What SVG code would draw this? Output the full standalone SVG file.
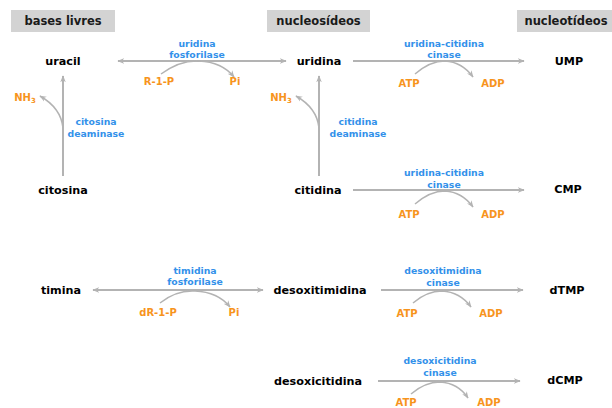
<svg xmlns="http://www.w3.org/2000/svg" width="612" height="408" viewBox="0 0 612 408">
<defs>
<marker id="ah" viewBox="0 0 10 10" refX="9" refY="5" markerWidth="7" markerHeight="7" orient="auto-start-reverse" markerUnits="userSpaceOnUse">
<path d="M0,1 L10,5 L0,9 L3,5 Z" fill="#b3b3b3"/>
</marker>
<style>
.hdr{fill:#d3d3d3}
.ht{font-family:"DejaVu Sans",sans-serif;font-weight:bold;font-size:11.5px;fill:#1a1a1a;text-anchor:middle}
.n{font-family:"DejaVu Sans",sans-serif;font-weight:bold;font-size:11.2px;fill:#000;text-anchor:middle}
.e{font-family:"DejaVu Sans",sans-serif;font-weight:bold;font-size:9.3px;fill:#3391ea;text-anchor:middle}
.s{font-family:"DejaVu Sans",sans-serif;font-weight:bold;font-size:10px;fill:#f7941d;text-anchor:middle}
.l{fill:none;stroke:#b3b3b3;stroke-width:2}
.c{fill:none;stroke:#b3b3b3;stroke-width:1.5}
</style>
</defs>
<g id="headers">
<g id="h-bases"><rect class="hdr" x="11" y="10" width="104" height="22"/><text class="ht" x="63" y="25">bases livres</text></g>
<g id="h-nucleosideos"><rect class="hdr" x="267" y="10" width="103" height="22"/><text class="ht" x="318.5" y="25">nucleosídeos</text></g>
<g id="h-nucleotideos"><rect class="hdr" x="517" y="10" width="95" height="22"/><text class="ht" x="566" y="25">nucleotídeos</text></g>
</g>
<g id="connectors">
<line class="l" x1="118" y1="61" x2="286" y2="61" marker-start="url(#ah)" marker-end="url(#ah)"/>
<path class="c" d="M161,74 Q180,60 199,61 Q222,62 234,77" marker-end="url(#ah)"/>
<line class="l" x1="353" y1="61" x2="524" y2="61" marker-end="url(#ah)"/>
<path class="c" d="M415,74 Q430,61 445,61 Q462,62 473,77" marker-end="url(#ah)"/>
<line class="l" x1="63" y1="176" x2="63" y2="76" marker-end="url(#ah)"/>
<path class="c" d="M63,128 Q61,108 40,96" marker-end="url(#ah)"/>
<line class="l" x1="319" y1="176" x2="319" y2="76" marker-end="url(#ah)"/>
<path class="c" d="M319,128 Q317,108 296,96" marker-end="url(#ah)"/>
<line class="l" x1="353" y1="190" x2="524" y2="190" marker-end="url(#ah)"/>
<path class="c" d="M415,204 Q430,191 445,191 Q462,192 473,207" marker-end="url(#ah)"/>
<line class="l" x1="93" y1="290" x2="263" y2="290" marker-start="url(#ah)" marker-end="url(#ah)"/>
<path class="c" d="M160,303 Q176,290 195,291 Q218,292 230,307" marker-end="url(#ah)"/>
<line class="l" x1="381" y1="290" x2="523" y2="290" marker-end="url(#ah)"/>
<path class="c" d="M413,303 Q427,291 442,291 Q460,292 471,307" marker-end="url(#ah)"/>
<line class="l" x1="378" y1="381" x2="520" y2="381" marker-end="url(#ah)"/>
<path class="c" d="M411,394 Q425,382 440,382 Q458,383 468,398" marker-end="url(#ah)"/>
</g>
<g id="uracil"><text class="n" x="63" y="65">uracil</text></g>
<g id="uridina"><text class="n" x="319" y="65">uridina</text></g>
<g id="UMP"><text class="n" x="569" y="65">UMP</text></g>
<g id="citosina"><text class="n" x="63" y="194">citosina</text></g>
<g id="citidina"><text class="n" x="318" y="194">citidina</text></g>
<g id="CMP"><text class="n" x="568" y="193">CMP</text></g>
<g id="timina"><text class="n" x="61" y="294">timina</text></g>
<g id="desoxitimidina"><text class="n" x="320" y="294">desoxitimidina</text></g>
<g id="dTMP"><text class="n" x="567" y="294">dTMP</text></g>
<g id="desoxicitidina"><text class="n" x="318" y="385">desoxicitidina</text></g>
<g id="dCMP"><text class="n" x="565" y="384">dCMP</text></g>
<g id="labels">
<text class="e" x="197" y="47">uridina</text><text class="e" x="197" y="58">fosforilase</text>
<text class="e" x="444" y="47">uridina-citidina</text><text class="e" x="444" y="58">cinase</text>
<text class="e" x="96" y="125">citosina</text><text class="e" x="96" y="137">deaminase</text>
<text class="e" x="358" y="125">citidina</text><text class="e" x="358" y="137">deaminase</text>
<text class="e" x="444" y="176">uridina-citidina</text><text class="e" x="444" y="188">cinase</text>
<text class="e" x="195" y="274">timidina</text><text class="e" x="195" y="285">fosforilase</text>
<text class="e" x="443" y="274">desoxitimidina</text><text class="e" x="443" y="286">cinase</text>
<text class="e" x="440" y="364">desoxicitidina</text><text class="e" x="440" y="376">cinase</text>
<text class="s" x="159" y="85">R-1-P</text><text class="s" x="235" y="85">Pi</text>
<text class="s" x="409" y="87">ATP</text><text class="s" x="493" y="87">ADP</text>
<text class="s" x="25" y="101">NH<tspan font-size="7" dy="2">3</tspan></text>
<text class="s" x="281" y="101">NH<tspan font-size="7" dy="2">3</tspan></text>
<text class="s" x="409" y="218">ATP</text><text class="s" x="493" y="218">ADP</text>
<text class="s" x="158" y="316">dR-1-P</text><text class="s" x="234" y="316">Pi</text>
<text class="s" x="407" y="317">ATP</text><text class="s" x="491" y="317">ADP</text>
<text class="s" x="406" y="406">ATP</text><text class="s" x="489" y="406">ADP</text>
</g>
</svg>
